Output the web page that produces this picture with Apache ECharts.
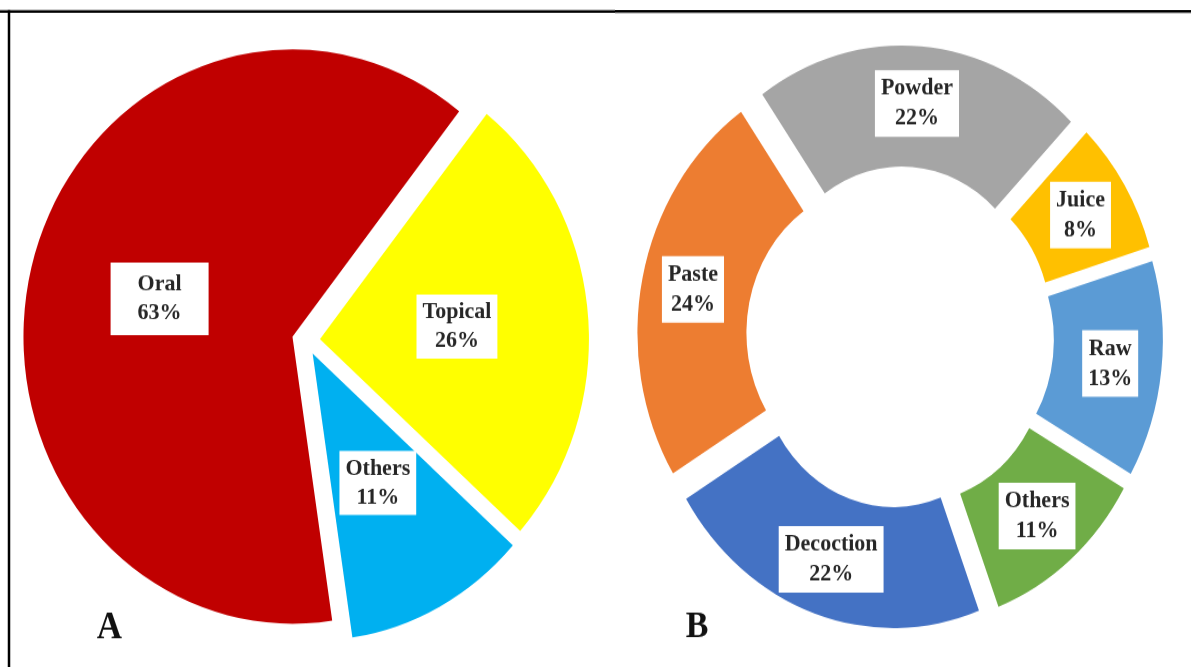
<!DOCTYPE html>
<html><head><meta charset="utf-8">
<script src="https://cdn.jsdelivr.net/npm/echarts@6/dist/echarts.min.js"></script>
<style>
html,body{margin:0;padding:0;background:#fff;overflow:hidden;}
#wrap{position:relative;width:1191px;height:667px;overflow:hidden;background:#fff;}
#chartA{position:absolute;left:0;top:0;width:615px;height:625px;transform:scaleY(1.0672);transform-origin:0 0;}
#chartB{position:absolute;left:615px;top:0;width:576px;height:601px;transform:scaleY(1.1098);transform-origin:0 0;}
</style></head><body>
<div id="wrap"><div id="chartA"></div><div id="chartB"></div></div>
<script>
// Panel A: route of administration (%)
const routeNames = ['Oral', 'Topical', 'Others'];
const routeValues = [63, 26, 11];
// Panel B: mode of preparation (%)
const prepNames = ['Powder', 'Juice', 'Raw', 'Others', 'Decoction', 'Paste'];
const prepValues = [22, 8, 13, 11, 22, 24];
const panelLetters = ['A', 'B'];

const routeColors = ['#C00000', '#FFFF00', '#00B0F0'];
const prepColors = ['#A5A5A5', '#FFC000', '#5B9BD5', '#70AD47', '#4472C4', '#ED7D31'];

const labelStyle = {
  show: true,
  position: 'inside',
  formatter: '{b}\n{c}%',
  fontFamily: '"Liberation Serif", "Times New Roman", serif',
  fontWeight: 'bold',
  fontSize: 22,
  lineHeight: 27,
  color: '#262626',
  backgroundColor: '#ffffff',
  padding: [3, 6]
};

const chartA = echarts.init(document.getElementById('chartA'), null, {renderer: 'canvas'});
chartA.setOption({
  animation: false,
  backgroundColor: 'transparent',
  series: [{
    type: 'pie',
    center: [306, 319],
    radius: [0, 269],
    startAngle: -81.5,
    clockwise: true,
    selectedMode: 'multiple',
    selectedOffset: 14,
    avoidLabelOverlap: false,
    label: labelStyle,
    labelLine: {show: false},
    emphasis: {disabled: true},
    itemStyle: {borderWidth: 0},
    data: routeNames.map((n, i) => ({
      name: n, value: routeValues[i], selected: true,
      itemStyle: {color: routeColors[i]},
      label: i === 0 ? {padding: [7, 27]} : {}
    }))
  }],
  graphic: [
    {type: 'line', silent: true, shape: {x1: 0, y1: 10.8, x2: 615, y2: 10.8}, style: {stroke: '#000', lineWidth: 2.5}},
    {type: 'line', silent: true, shape: {x1: 9, y1: 9.6, x2: 9, y2: 625}, style: {stroke: '#000', lineWidth: 2.5}},
    {type: 'text', silent: true, x: 109.5, y: 589, style: {text: panelLetters[0], font: 'bold 35px "Liberation Serif", serif', fill: '#111', align: 'center', verticalAlign: 'middle'}}
  ]
});

const chartB = echarts.init(document.getElementById('chartB'), null, {renderer: 'canvas'});
chartB.setOption({
  animation: false,
  backgroundColor: 'transparent',
  series: [{
    type: 'pie',
    center: [285, 304],
    radius: [134, 243],
    startAngle: 125,
    clockwise: true,
    selectedMode: 'multiple',
    selectedOffset: 20,
    avoidLabelOverlap: false,
    label: labelStyle,
    labelLine: {show: false},
    emphasis: {disabled: true},
    itemStyle: {borderWidth: 0},
    data: prepNames.map((n, i) => ({
      name: n, value: prepValues[i], selected: true,
      itemStyle: {color: prepColors[i]}
    }))
  }],
  graphic: [
    {type: 'line', silent: true, shape: {x1: 0, y1: 10.36, x2: 576, y2: 10.36}, style: {stroke: '#000', lineWidth: 2.5}},
    {type: 'text', silent: true, x: 82, y: 565, style: {text: panelLetters[1], font: 'bold 34px "Liberation Serif", serif', fill: '#111', align: 'center', verticalAlign: 'middle'}}
  ]
});
</script>
</body></html>
